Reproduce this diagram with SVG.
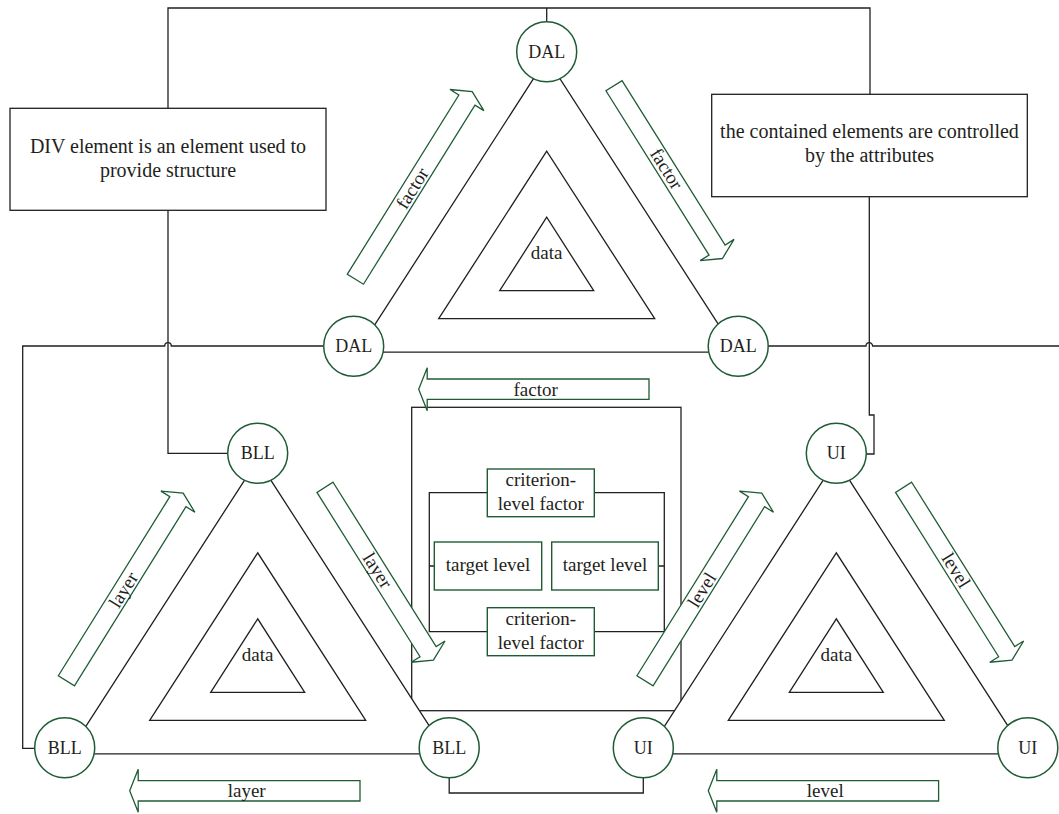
<svg xmlns="http://www.w3.org/2000/svg" width="1059" height="814" viewBox="0 0 1059 814">
<style>
text{font-family:"Liberation Serif","Times New Roman",serif;fill:#231f20;text-anchor:middle}
.ln{fill:none;stroke:#231f20;stroke-width:1.3}
.box{fill:#fff;stroke:#231f20;stroke-width:1.3}
.tri{fill:#fff;stroke:#231f20;stroke-width:1.3}
.gbox{fill:#fff;stroke:#1f5c36;stroke-width:1.4}
.node{fill:#fff;stroke:#1f5c36;stroke-width:1.5}
.arr{fill:#fff;stroke:#1f5c36;stroke-width:1.3;stroke-linejoin:miter}
.t20{font-size:20px}
.t19{font-size:19px}
.t18{font-size:18px}
</style>
<rect width="1059" height="814" fill="#fff"/>
<g id="connectors">
<path class="ln" d="M168 108.3 V8 H870 V94.3"/>
<path class="ln" d="M546.7 8 V21.7"/>
<path class="ln" d="M168 210.3 V453.3 H227.7"/>
<path class="ln" d="M34.3 748.3 H22.7 V346 H164.7 a3.3 3.3 0 0 1 6.6 0 H323"/>
<path class="ln" d="M767.7 346 H866 a3.3 3.3 0 0 1 6.6 0 H1059"/>
<path class="ln" d="M869.3 196.7 V415 H874 V454 H866.3"/>
<path class="ln" d="M449.2 778 V793 H643.3 V778"/>
</g>
<g id="div-note">
<rect class="box" x="10" y="108.3" width="316" height="102"/>
<text class="t20" x="168" y="152.5">DIV element is an element used to</text>
<text class="t20" x="168" y="176.5">provide structure</text>
</g>
<g id="attr-note">
<rect class="box" x="711.7" y="94.3" width="315.6" height="102.4"/>
<text class="t20" x="869.5" y="138.3">the contained elements are controlled</text>
<text class="t20" x="869.5" y="161.7">by the attributes</text>
</g>
<g id="center-box">
<rect class="box" x="411.7" y="407.3" width="269.3" height="303.4"/>
<path class="ln" d="M429.3 492.7 H664.3 V631.7 H429.3 Z M429.3 566 H434.3 M658.3 566 H664.3"/>
<g id="crit-top">
<rect class="gbox" x="487.3" y="469" width="107" height="47.7"/>
<text class="t19" x="540.8" y="486">criterion-</text>
<text class="t19" x="540.8" y="510">level factor</text>
</g>
<g id="target-left">
<rect class="gbox" x="434.3" y="542" width="107.4" height="48"/>
<text class="t19" x="488" y="571">target level</text>
</g>
<g id="target-right">
<rect class="gbox" x="551.7" y="542" width="106.6" height="48"/>
<text class="t19" x="605" y="571">target level</text>
</g>
<g id="crit-bottom">
<rect class="gbox" x="487.3" y="607.7" width="107" height="48"/>
<text class="t19" x="540.8" y="625">criterion-</text>
<text class="t19" x="540.8" y="648.5">level factor</text>
</g>
</g>
<g id="dal-group" transform="translate(546.7,51.7)">
<polygon class="tri" points="0,6.5 -189.6,300.5 189.6,300.5"/>
<polygon class="tri" points="0,99.5 -108,267 108,267"/>
<polygon class="tri" points="0,165.5 -47,239 47,239"/>
<text class="t19" x="0" y="207.5">data</text>
<polygon class="arr" transform="translate(-191.3,227.5) rotate(-58.1)" points="0,-9.5 211,-9.5 211,-20 221,0 211,20 211,9.5 0,9.5"/>
<text class="t19" transform="translate(-134.5,136.5) rotate(-58.1)" x="0" y="6.5">factor</text>
<polygon class="arr" transform="translate(67.3,34) rotate(57.9)" points="0,-9.5 194,-9.5 194,-20 204,0 194,20 194,9.5 0,9.5"/>
<text class="t19" transform="translate(120,117) rotate(57.9)" x="0" y="6.5">factor</text>
<polygon class="arr" transform="translate(102.3,337.5) rotate(180)" points="0,-10.2 221.8,-10.2 221.8,-21.5 230.3,0 221.8,21.5 221.8,10.2 0,10.2"/>
<text class="t19" x="-11" y="344">factor</text>
<g id="dal-top"><circle class="node" cx="0" cy="0" r="30"/><text class="t18" x="0" y="6">DAL</text></g>
<g id="dal-left"><circle class="node" cx="-193" cy="294.5" r="30"/><text class="t18" x="-193" y="300.5">DAL</text></g>
<g id="dal-right"><circle class="node" cx="191.5" cy="294.5" r="30"/><text class="t18" x="191.5" y="300.5">DAL</text></g>
</g>
<g id="bll-group" transform="translate(257.7,453.3)">
<polygon class="tri" points="0,6.5 -189.6,300.5 189.6,300.5"/>
<polygon class="tri" points="0,99.5 -108,267 108,267"/>
<polygon class="tri" points="0,165.5 -47,239 47,239"/>
<text class="t19" x="0" y="207.5">data</text>
<polygon class="arr" transform="translate(-191.3,227.5) rotate(-58.1)" points="0,-9.5 211,-9.5 211,-20 221,0 211,20 211,9.5 0,9.5"/>
<text class="t19" transform="translate(-134.5,136.5) rotate(-58.1)" x="0" y="6.5">layer</text>
<polygon class="arr" transform="translate(67.3,34) rotate(57.9)" points="0,-9.5 194,-9.5 194,-20 204,0 194,20 194,9.5 0,9.5"/>
<text class="t19" transform="translate(120,117) rotate(57.9)" x="0" y="6.5">layer</text>
<polygon class="arr" transform="translate(102.3,337.5) rotate(180)" points="0,-10.2 221.8,-10.2 221.8,-21.5 230.3,0 221.8,21.5 221.8,10.2 0,10.2"/>
<text class="t19" x="-11" y="344">layer</text>
<g id="bll-top"><circle class="node" cx="0" cy="0" r="30"/><text class="t18" x="0" y="6">BLL</text></g>
<g id="bll-left"><circle class="node" cx="-193" cy="294.5" r="30"/><text class="t18" x="-193" y="300.5">BLL</text></g>
<g id="bll-right"><circle class="node" cx="191.5" cy="294.5" r="30"/><text class="t18" x="191.5" y="300.5">BLL</text></g>
</g>
<g id="ui-group" transform="translate(836.3,453.3)">
<polygon class="tri" points="0,6.5 -189.6,300.5 189.6,300.5"/>
<polygon class="tri" points="0,99.5 -108,267 108,267"/>
<polygon class="tri" points="0,165.5 -47,239 47,239"/>
<text class="t19" x="0" y="207.5">data</text>
<polygon class="arr" transform="translate(-191.3,227.5) rotate(-58.1)" points="0,-9.5 211,-9.5 211,-20 221,0 211,20 211,9.5 0,9.5"/>
<text class="t19" transform="translate(-134.5,136.5) rotate(-58.1)" x="0" y="6.5">level</text>
<polygon class="arr" transform="translate(67.3,34) rotate(57.9)" points="0,-9.5 194,-9.5 194,-20 204,0 194,20 194,9.5 0,9.5"/>
<text class="t19" transform="translate(120,117) rotate(57.9)" x="0" y="6.5">level</text>
<polygon class="arr" transform="translate(102.3,337.5) rotate(180)" points="0,-10.2 221.8,-10.2 221.8,-21.5 230.3,0 221.8,21.5 221.8,10.2 0,10.2"/>
<text class="t19" x="-11" y="344">level</text>
<g id="ui-top"><circle class="node" cx="0" cy="0" r="30"/><text class="t18" x="0" y="6">UI</text></g>
<g id="ui-left"><circle class="node" cx="-193" cy="294.5" r="30"/><text class="t18" x="-193" y="300.5">UI</text></g>
<g id="ui-right"><circle class="node" cx="191.5" cy="294.5" r="30"/><text class="t18" x="191.5" y="300.5">UI</text></g>
</g>
</svg>
